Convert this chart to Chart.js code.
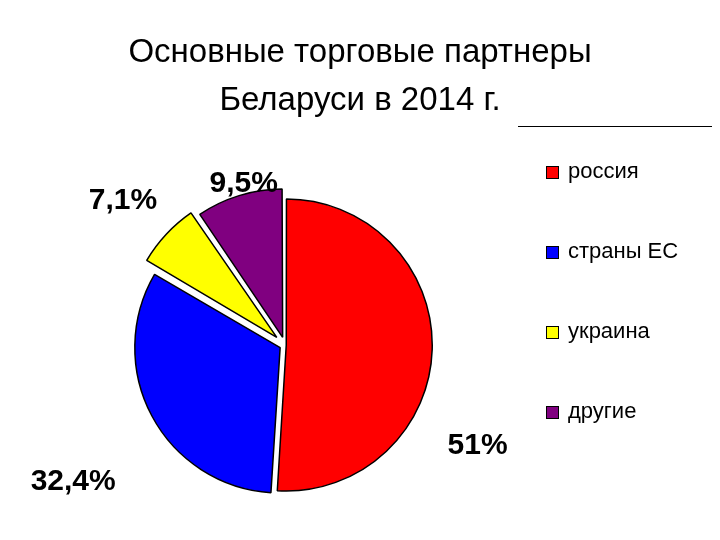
<!DOCTYPE html>
<html><head><meta charset="utf-8">
<script src="https://cdn.jsdelivr.net/npm/chart.js@4/dist/chart.umd.min.js"></script>
<style>body{margin:0;background:#fff}#wrap{width:720px;height:540px}</style>
</head><body><div id="wrap"><canvas id="c" width="720" height="540"></canvas></div>
<script>
var categories = ["россия", "страны ЕС", "украина", "другие"];
var shares = [51, 32.4, 7.1, 9.5];
var labelsText = ["51%", "32,4%", "7,1%", "9,5%"];
var colors = ["#ff0000", "#0000ff", "#ffff00", "#800080"];
var offsets = [5, 22, 45, 32];
var labelFrac = [0.64, 0.46, 0.45, 0.58];
var labelDist = [1.5, 1.74, 1.5, 1.15];

var extras = {
  id: "extras",
  afterDraw: function (chart) {
    var ctx = chart.ctx;
    ctx.save();
    ctx.fillStyle = "#000";
    ctx.textAlign = "center";
    ctx.textBaseline = "alphabetic";
    ctx.font = "33px 'Liberation Sans', Arial";
    ctx.fillText("Основные торговые партнеры", 360, 62);
    ctx.fillText("Беларуси в 2014 г.", 360, 110);
    ctx.strokeStyle = "#000";
    ctx.lineWidth = 1;
    ctx.beginPath(); ctx.moveTo(518, 126.5); ctx.lineTo(712, 126.5); ctx.stroke();
    // slice labels
    ctx.font = "bold 30px 'Liberation Sans', Arial";
    ctx.textBaseline = "middle";
    chart.getDatasetMeta(0).data.forEach(function (arc, i) {
      var a = arc.startAngle + (arc.endAngle - arc.startAngle) * labelFrac[i];
      var r = arc.outerRadius * labelDist[i];
      ctx.fillText(labelsText[i], arc.x + Math.cos(a) * r, arc.y + Math.sin(a) * r);
    });
    // legend
    ctx.font = "22px 'Liberation Sans', Arial";
    ctx.textAlign = "left";
    categories.forEach(function (c, i) {
      var y = 172 + i * 80;
      ctx.fillStyle = colors[i];
      ctx.fillRect(546, y - 6, 13, 13);
      ctx.strokeRect(546.5, y - 5.5, 12, 12);
      ctx.fillStyle = "#000";
      ctx.fillText(c, 568, y);
    });
    ctx.restore();
  }
};

new Chart(document.getElementById("c"), {
  type: "pie",
  data: {
    labels: categories,
    datasets: [{
      data: shares,
      backgroundColor: colors,
      borderColor: "#000",
      borderWidth: 1.5,
      offset: offsets
    }]
  },
  options: {
    responsive: false,
    animation: false,
    layout: { padding: { top: 177, bottom: 27, left: 117, right: 267 } },
    plugins: { legend: { display: false }, tooltip: { enabled: false } }
  },
  plugins: [extras]
});
</script></body></html>
